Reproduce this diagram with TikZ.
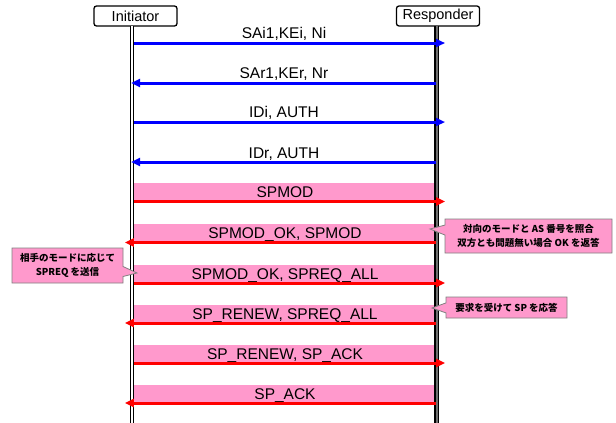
\documentclass[tikz,border=0pt]{standalone}
\usepackage{fontspec}
\setmainfont{Liberation Sans}
\newfontfamily\jp{Noto Sans CJK JP}
\usetikzlibrary{arrows.meta,shapes.callouts}

\definecolor{msgblue}{RGB}{0,0,255}
\definecolor{msgred}{RGB}{255,0,0}
\definecolor{bandpink}{RGB}{255,153,204}
\definecolor{notegray}{RGB}{128,128,128}
\definecolor{lifegray}{RGB}{110,110,110}

\tikzset{
  actor/.style={draw, line width=1.3pt, rounded corners=2.5pt, fill=white,
    minimum width=83pt, minimum height=20pt, inner sep=0pt,
    font=\fontsize{14.5}{16}\selectfont},
  lifeline/.style={line width=1.2pt, double distance=2pt},
  msglabel/.style={anchor=base, inner sep=0pt, font=\fontsize{15.5}{17}\selectfont},
  band/.style={fill=bandpink, anchor=south, inner xsep=0pt, inner ysep=0pt,
    text height=14.5pt, text depth=3.5pt, minimum width=302pt,
    font=\fontsize{15.5}{17}\selectfont},
  bluemsg/.style={draw=msgblue, line width=3pt, -{Triangle[length=9pt,width=8pt]}},
  redmsg/.style={draw=msgred, line width=3pt, -{Triangle[length=9pt,width=8pt]}},
  note/.style={rectangle callout, draw=notegray, line width=0.8pt, fill=bandpink,
    callout pointer width=10pt, inner sep=0pt, align=center,
    font=\jp\bfseries\fontsize{9.5}{14}\selectfont},
}

\begin{document}
\begin{tikzpicture}[x=1pt,y=-1pt]
  \useasboundingbox (0,0) rectangle (616,423);
  \fill[white] (0,0) rectangle (616,423);

  % participants
  \node[actor] (init) at (135.5,16) {Initiator};
  \node[actor] (resp) at (438,16) {Responder};

  \coordinate (iTop) at (132,26);
  \coordinate (iBot) at (132,423);
  \coordinate (rTop) at (436.5,26);
  \coordinate (rBot) at (436.5,423);

  % SP negotiation bands (drawn under the lifelines)
  \node[band] (b1) at (285,201.5) {SPMOD};
  \node[band] (b2) at (285,242.5) {SPMOD\_OK, SPMOD};
  \node[band] (b3) at (285,283) {SPMOD\_OK, SPREQ\_ALL};
  \node[band] (b4) at (285,323) {SP\_RENEW, SPREQ\_ALL};
  \node[band] (b5) at (285,363) {SP\_RENEW, SP\_ACK};
  \node[band] (b6) at (285,403) {SP\_ACK};

  % lifelines
  \draw[lifeline, double=white] (iTop) -- (iBot);
  \draw[lifeline, double=lifegray] (rTop) -- (rBot);

  % IKE exchange (blue)
  \foreach \n/\y in {1/43, 2/83, 3/122, 4/162} {
    \coordinate (i\n) at (134,\y);
    \coordinate (r\n) at (436,\y);
  }
  \node[msglabel] (l1) at (284,38.3) {SAi1,KEi, Ni};
  \node[msglabel] (l2) at (284,78) {SAr1,KEr, Nr};
  \node[msglabel] (l3) at (284,117.5) {IDi, AUTH};
  \node[msglabel] (l4) at (284,158) {IDr, AUTH};
  \draw[bluemsg, shorten >=-9pt] (i1) -- (r1);
  \draw[bluemsg, shorten >=-3pt] (r2) -- (i2);
  \draw[bluemsg, shorten >=-9pt] (i3) -- (r3);
  \draw[bluemsg, shorten >=-3pt] (r4) -- (i4);

  % SP negotiation arrows (red)
  \draw[redmsg, shorten >=-9pt] (b1.south west) -- (b1.south east);
  \draw[redmsg, shorten >=-9pt] (b2.south east) -- (b2.south west);
  \draw[redmsg, shorten >=-9pt] (b3.south west) -- (b3.south east);
  \draw[redmsg, shorten >=-9pt] (b4.south east) -- (b4.south west);
  \draw[redmsg, shorten >=-9pt] (b5.south west) -- (b5.south east);
  \draw[redmsg, shorten >=-9pt] (b6.south east) -- (b6.south west);

  % annotations
  \node[note, minimum width=167pt, minimum height=34pt,
        callout absolute pointer={(430,229)}] (n1) at (528.5,236)
        {対向のモードと AS 番号を照合\\双方とも問題無い場合 OK を返答};
  \node[note, minimum width=121pt, minimum height=21pt,
        callout absolute pointer={(432,308)}] (n2) at (506.5,307.5)
        {要求を受けて SP を応答};
  \node[note, minimum width=111pt, minimum height=35pt,
        callout absolute pointer={(137,273)}] (n3) at (67.5,265.5)
        {相手のモードに応じて\\SPREQ を送信};
\end{tikzpicture}
\end{document}
